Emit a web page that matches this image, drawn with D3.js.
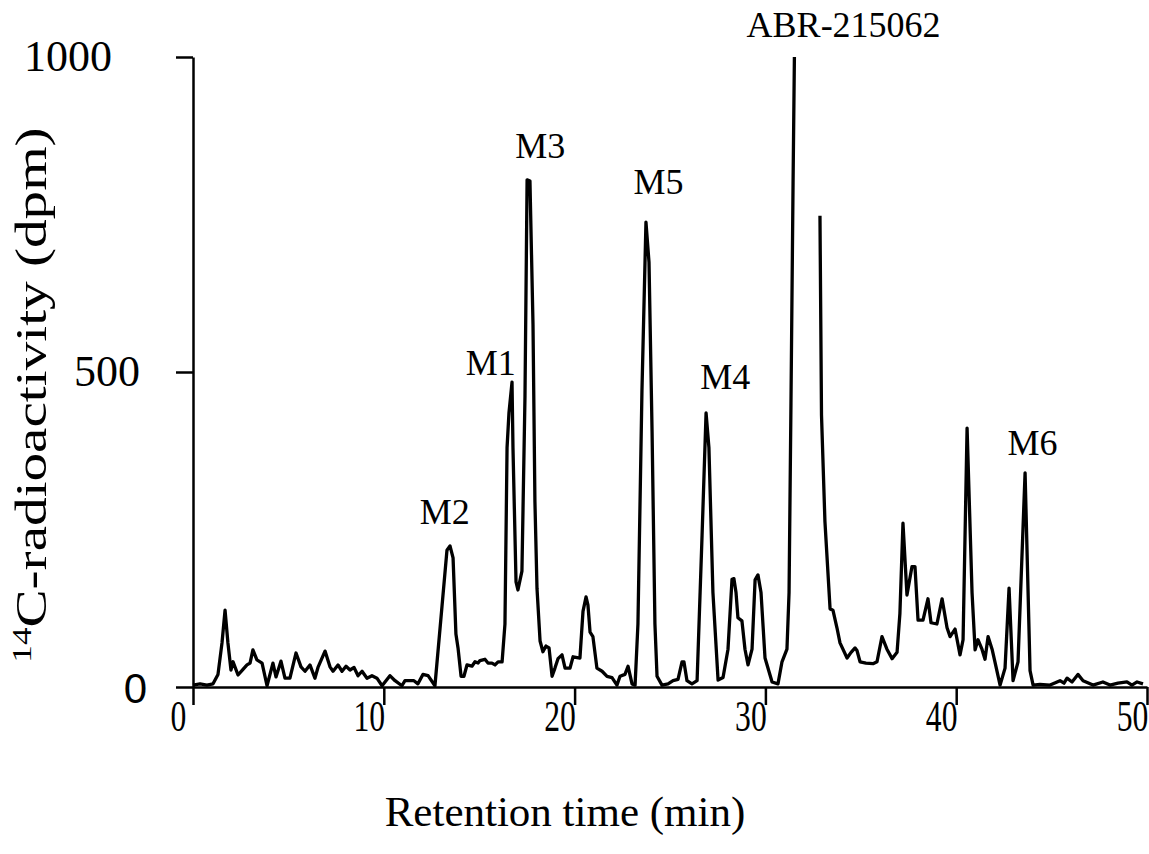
<!DOCTYPE html>
<html>
<head>
<meta charset="utf-8">
<script src="https://cdn.jsdelivr.net/npm/d3@7"></script>
<style>
  body { margin: 0; background: #fff; }
</style>
</head>
<body>
<svg id="chart" width="1149" height="854"></svg>
<script>
// retention time (min) and 14C radioactivity (dpm)
var times = [0.00,0.37,0.73,1.05,1.31,1.52,1.68,1.83,1.99,2.10,2.36,2.62,2.83,2.99,3.14,3.35,3.62,3.88,4.19,4.35,
  4.61,4.82,5.08,5.40,5.66,5.87,6.13,6.39,6.55,6.92,7.18,7.34,7.60,7.81,8.02,8.23,8.44,8.65,8.86,9.12,
  9.38,9.64,9.91,10.32,10.59,10.95,11.11,11.37,11.58,11.79,12.05,12.32,12.68,13.05,13.31,13.47,13.63,13.78,13.89,14.05,
  14.20,14.36,14.62,14.78,14.94,15.04,15.30,15.46,15.67,15.83,15.99,16.20,16.35,16.46,16.56,16.72,16.77,16.93,17.03,17.24,
  17.40,17.51,17.66,17.82,17.92,18.03,18.19,18.34,18.50,18.66,18.82,18.97,19.13,19.34,19.50,19.76,19.92,20.28,20.44,20.60,
  20.70,20.81,20.96,21.17,21.44,21.70,21.96,22.22,22.38,22.64,22.80,23.01,23.17,23.32,23.53,23.74,23.90,24.06,24.21,24.32,
  24.58,24.90,25.16,25.42,25.63,25.73,25.89,26.15,26.42,26.68,26.89,27.04,27.25,27.52,27.78,28.04,28.25,28.35,28.46,28.56,
  28.77,28.93,29.09,29.30,29.46,29.61,29.77,29.98,30.35,30.66,30.87,31.13,31.24,31.34,31.45,31.52,32.08,32.86,32.94,33.12,
  33.39,33.54,33.75,33.91,34.28,34.49,34.70,34.80,34.96,35.27,35.64,35.85,36.11,36.37,36.64,36.90,37.05,37.21,37.42,37.68,
  37.84,38.00,38.26,38.52,38.68,38.99,39.26,39.52,39.68,39.94,40.20,40.36,40.57,40.83,40.99,41.14,41.35,41.51,41.67,41.88,
  42.03,42.30,42.56,42.77,42.98,43.24,43.61,43.87,44.03,44.39,44.92,45.44,45.65,45.81,46.07,46.38,46.65,47.17,47.69,48.06,
  48.48,48.95,49.21,49.48,49.79];
var dpm = [3,5,3,5,20,70,122,70,27,40,19,28,35,38,59,43,38,2,38,16,
  41,14,14,54,32,25,35,14,31,57,32,25,35,25,33,27,31,18,25,14,
  18,14,2,18,10,2,10,10,10,5,20,18,2,128,217,224,205,84,62,17,
  17,35,33,40,38,42,44,38,38,35,40,40,100,380,435,484,380,167,154,184,
  462,805,803,575,295,156,73,56,65,62,17,30,45,51,30,30,48,46,120,143,
  130,87,80,30,25,17,15,3,17,20,33,5,3,100,470,738,674,406,100,17,
  3,5,10,12,40,40,10,5,10,240,435,380,150,11,15,60,171,172,150,110,
  105,60,35,60,170,178,150,46,8,5,40,60,150,450,800,1000,1500,748,432,263,
  124,122,94,70,46,55,62,58,40,38,37,40,80,60,45,55,117,260,146,191,
  191,106,106,140,102,100,140,94,80,92,51,75,411,150,59,75,60,44,80,60,
  40,3,30,157,10,40,340,26,3,4,3,10,6,14,8,20,10,3,8,3,
  6,8,3,8,5];

var peakNames = ["M2", "M1", "M3", "M5", "M4", "ABR-215062", "M6"];
var peakLabelTime = [13.2, 15.6, 18.2, 24.4, 27.9, 34.1, 44.0];
var peakLabelDpm = [258, 495, 840, 783, 473, 1032, 368];

var xTicks = [0, 10, 20, 30, 40, 50];
var yTicks = [0, 500, 1000];

var serif = "'Liberation Serif', 'Times New Roman', serif";
var sans = "'Liberation Sans', Arial, sans-serif";

var svg = d3.select("#chart");
var margin = {left: 193, right: 2, top: 57, bottom: 167};
var W = 1149, H = 854;

var x = d3.scaleLinear().domain([0, 50]).range([margin.left, W - margin.right]);
var y = d3.scaleLinear().domain([0, 1000]).range([H - margin.bottom, margin.top]);

var trace = times.map(function(t, i) { return {t: t, v: dpm[i]}; });

// points above 1000 are off scale and break the line
var line = d3.line()
  .defined(function(d) { return d.v <= 1000; })
  .x(function(d) { return x(d.t); })
  .y(function(d) { return y(d.v); });

svg.append("path")
  .datum(trace)
  .attr("d", line)
  .attr("fill", "none")
  .attr("stroke", "#000")
  .attr("stroke-width", 3.3)
  .attr("stroke-linejoin", "round");

// x axis
var xAxis = svg.append("g")
  .attr("transform", "translate(0," + y(0) + ")")
  .call(d3.axisBottom(x).tickValues(xTicks).tickSize(18).tickSizeOuter(0));
xAxis.select(".domain").attr("stroke-width", 2.5);
xAxis.selectAll(".tick line").attr("stroke-width", 2.5);
xAxis.selectAll(".tick text")
  .attr("y", null).attr("dy", null)
  .attr("transform", "translate(-15,44) scale(0.72,1)")
  .style("font-family", serif)
  .style("font-size", "44px");

// y axis
var yLabelRight = {0: -46, 500: -53, 1000: -81};
var yAxis = svg.append("g")
  .attr("transform", "translate(" + x(0) + ",0)")
  .call(d3.axisLeft(y).tickValues(yTicks).tickFormat(d3.format("d")).tickSize(17).tickSizeOuter(0));
yAxis.select(".domain").attr("stroke-width", 2.5);
yAxis.selectAll(".tick line").attr("stroke-width", 2.5);
yAxis.selectAll(".tick text")
  .attr("x", function(d) { return yLabelRight[d]; })
  .attr("dy", "0.3em")
  .style("font-family", serif)
  .style("font-size", "44px");
yAxis.selectAll(".tick text").filter(function(d) { return d === 0; })
  .attr("dy", "0.36em")
  .style("font-family", sans)
  .style("font-size", "42px");

// peak labels
svg.selectAll(".peak")
  .data(peakNames)
  .enter().append("text")
  .attr("class", "peak")
  .attr("x", function(d, i) { return x(peakLabelTime[i]); })
  .attr("y", function(d, i) { return y(peakLabelDpm[i]); })
  .attr("text-anchor", "middle")
  .style("font-family", serif)
  .style("font-size", "36px")
  .text(function(d) { return d; });

// axis titles
svg.append("text")
  .attr("x", 565)
  .attr("y", 826)
  .attr("text-anchor", "middle")
  .style("font-family", serif)
  .style("font-size", "43px")
  .text("Retention time (min)");

var yt = svg.append("text")
  .attr("transform", "translate(46,395) rotate(-90) scale(1.3,1)")
  .attr("text-anchor", "middle")
  .style("font-family", serif)
  .style("font-size", "44px");
yt.append("tspan").style("font-size", "27px").attr("dy", -15).text("14");
yt.append("tspan").attr("dy", 15).text("C-radioactivity (dpm)");
</script>
</body>
</html>
